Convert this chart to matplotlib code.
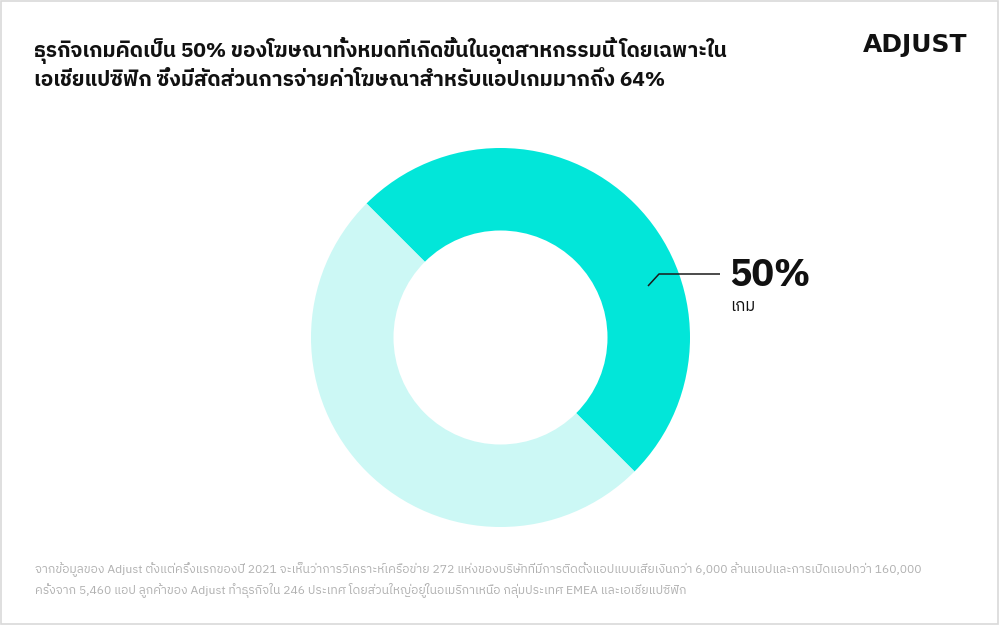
import matplotlib
matplotlib.use("Agg")
import matplotlib.pyplot as plt
from matplotlib.patches import Rectangle

plt.rcParams['font.family'] = ['IBM Plex Sans Thai', 'Noto Sans Thai', 'DejaVu Sans']

# ข้อมูล
labels = ['เกม', 'อื่นๆ']
shares = [50, 50]
colors = ['#02E6D9', '#CCF8F5']

title = ("ธุรกิจเกมคิดเป็น 50% ของโฆษณาทั้งหมดที่เกิดขึ้นในอุตสาหกรรมนี้ โดยเฉพาะใน\n"
         "เอเชียแปซิฟิก ซึ่งมีสัดส่วนการจ่ายค่าโฆษณาสำหรับแอปเกมมากถึง 64%")
footer = ("จากข้อมูลของ Adjust ตั้งแต่ครึ่งแรกของปี 2021 จะเห็นว่าการวิเคราะห์เครือข่าย 272 แห่งของบริษัทที่มีการติดตั้งแอปแบบเสียเงินกว่า 6,000 ล้านแอปและการเปิดแอปกว่า 160,000\n"
          "ครั้งจาก 5,460 แอป ลูกค้าของ Adjust ทำธุรกิจใน 246 ประเทศ โดยส่วนใหญ่อยู่ในอเมริกาเหนือ กลุ่มประเทศ EMEA และเอเชียแปซิฟิก")

W, H = 1000, 625
fig = plt.figure(figsize=(10, 6.25), dpi=100)
fig.patch.set_facecolor('white')

# กรอบรูป
fig.add_artist(Rectangle((0.0005, 0.001), 0.997, 0.997, transform=fig.transFigure,
                         fill=False, edgecolor='#d9d9d9', linewidth=1.2))

# โดนัท
cx, cy, r = 500.5, 337.5, 189.5
ax = fig.add_axes([(cx - r) / W, (H - cy - r) / H, 2 * r / W, 2 * r / H])
wedges, _ = ax.pie(shares, colors=colors, startangle=135, counterclock=False,
                   radius=1.0, wedgeprops=dict(width=1 - 107.0 / 189.5, linewidth=0))
ax.set_xlim(-1, 1)
ax.set_ylim(-1, 1)
ax.set_aspect('equal')
ax.axis('off')

# เส้นชี้ป้าย (พิกัดในหน่วยของแกน)
def px(x, y):
    return ((x - cx) / r, (cy - y) / r)

p0, p1, p2 = px(648, 286), px(659, 274), px(720, 274)
ax.plot([p0[0], p1[0], p2[0]], [p0[1], p1[1], p2[1]], color='#1a1a1a',
        linewidth=1.1, clip_on=False, solid_capstyle='butt')

fig.text(729 / W, 1 - 276 / H, f'{shares[0]}%', fontsize=27, fontweight='bold',
         color='#111111', va='center', ha='left')
fig.text(730 / W, 1 - 306 / H, labels[0], fontsize=12, color='#111111',
         va='center', ha='left')

# หัวเรื่อง
fig.text(34 / W, 1 - 37 / H, title, fontsize=15, fontweight='bold', color='#111111',
         va='top', ha='left', linespacing=1.45)

# โลโก้
fig.text(967 / W, 1 - 45 / H, 'ADJUST', fontsize=18, fontweight='bold', color='#111111',
         va='center', ha='right', family=['DejaVu Sans'])

# หมายเหตุท้ายภาพ
fig.text(35 / W, 1 - 562 / H, footer, fontsize=8.75, color='#b0b0b0',
         va='top', ha='left', linespacing=1.45)

fig.savefig('out.png', dpi=100, facecolor='white')
